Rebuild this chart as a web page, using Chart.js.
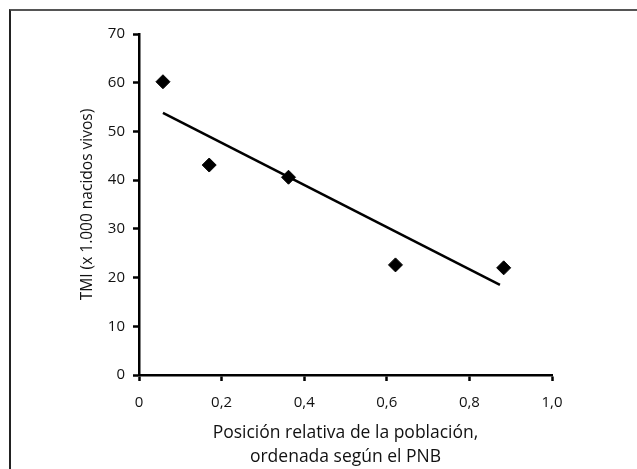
<!DOCTYPE html>
<html lang="es">
<head>
<meta charset="utf-8">
<title>TMI según posición relativa</title>
<script src="https://cdn.jsdelivr.net/npm/chart.js@4/dist/chart.umd.min.js"></script>
<style>
    html, body { margin: 0; padding: 0; background: #fff; }
    #wrap { position: relative; width: 637px; height: 469px; overflow: hidden; }
    #frame {
        position: absolute; left: 9px; top: 9px; right: -5px; bottom: -5px;
        border-top: 2px solid #555; border-left: 2px solid #222;
        pointer-events: none;
    }
    canvas { position: absolute; left: 0; top: 0; }
</style>
</head>
<body>
<div id="wrap">
    <canvas id="chart" width="637" height="469"></canvas>
    <div id="frame"></div>
</div>
<script>
// ─── Data ─────────────────────────────────────────────────────────────────────
const posRelativa = [0.058, 0.170, 0.362, 0.621, 0.883];
const tmi = [60.2, 43.1, 40.6, 22.6, 22.0];

// trend line at its two ends
const trendX = [0.058, 0.874];
const trendY = [53.8, 18.5];

const xTickLabels = ['0', '0,2', '0,4', '0,6', '0,8', '1,0'];
const yTickLabels = ['0', '10', '20', '30', '40', '50', '60', '70'];

const xTitle = ['Posición relativa de la población,', 'ordenada según el PNB'];
const yTitle = 'TMI (x 1.000 nacidos vivos)';

// ─── Chart ────────────────────────────────────────────────────────────────────
Chart.defaults.font.family = '"Open Sans", "Noto Sans", sans-serif';
Chart.defaults.color = '#111';

const axisCommon = {
    border: { display: true, color: '#000', width: 2.5 },
    grid: { drawOnChartArea: false, drawTicks: true, tickLength: 6, tickWidth: 2.5, tickColor: '#000' }
};

new Chart(document.getElementById('chart'), {
    type: 'scatter',
    data: {
        datasets: [
            {
                label: 'TMI',
                data: posRelativa.map((x, i) => ({ x, y: tmi[i] })),
                pointStyle: 'rectRot',
                pointRadius: 7,
                pointBackgroundColor: '#000',
                pointBorderColor: '#000',
                pointBorderWidth: 1,
                order: 1
            },
            {
                label: 'Tendencia',
                type: 'line',
                data: trendX.map((x, i) => ({ x, y: trendY[i] })),
                borderColor: '#000',
                borderWidth: 2.5,
                pointRadius: 0,
                fill: false,
                order: 2
            }
        ]
    },
    options: {
        responsive: false,
        animation: false,
        layout: { padding: { left: 0, top: 34, right: 85, bottom: 0 } },
        plugins: { legend: { display: false }, tooltip: { enabled: false } },
        scales: {
            x: {
                ...axisCommon,
                type: 'linear',
                min: 0, max: 1,
                ticks: {
                    stepSize: 0.2,
                    padding: 13,
                    font: { size: 15 },
                    callback: (v, i) => xTickLabels[i]
                },
                title: {
                    display: true,
                    text: xTitle,
                    font: { size: 17.5, lineHeight: 1.37 },
                    padding: { top: 0, bottom: 0 }
                },
                afterFit: s => { s.height = 94; }
            },
            y: {
                ...axisCommon,
                min: 0, max: 70,
                ticks: {
                    stepSize: 10,
                    padding: 8,
                    font: { size: 15 },
                    callback: (v, i) => yTickLabels[i]
                },
                title: {
                    display: true,
                    text: yTitle,
                    font: { size: 15.5 },
                    padding: { top: 78, bottom: 0 }
                },
                afterFit: s => { s.width = 139; }
            }
        }
    }
});
</script>
</body>
</html>
